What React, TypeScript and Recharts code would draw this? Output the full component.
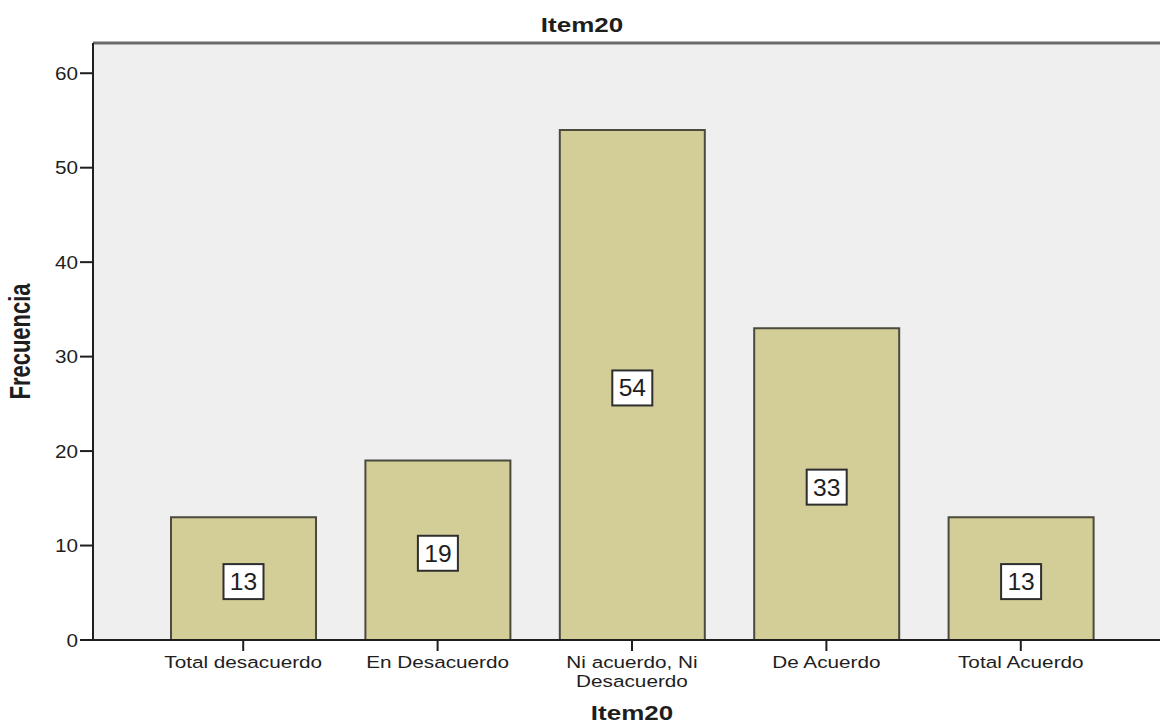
import { Bar, BarChart, CartesianGrid, LabelList, ReferenceLine, XAxis, YAxis } from 'recharts';

const CATEGORIES = [
  'Total desacuerdo',
  'En Desacuerdo',
  'Ni acuerdo, Ni Desacuerdo',
  'De Acuerdo',
  'Total Acuerdo',
];
const FRECUENCIA = [13, 19, 54, 33, 13];
const Y_TICKS = [0, 10, 20, 30, 40, 50, 60];
const Y_MAX = 63.2;

const TITLE = 'Item20';
const X_TITLE = 'Item20';
const Y_TITLE = 'Frecuencia';

const data = CATEGORIES.map((name, i) => ({ name, value: FRECUENCIA[i] }));

const FONT = '"Liberation Sans", Arial, sans-serif';
const INK = '#1e1e1e';
const PAD_LEFT = 53;
const PAD_RIGHT = 42;

// SPSS output renders text a bit wide, so every label is stretched horizontally
function WideText({
  x,
  y,
  sx,
  size,
  bold,
  anchor = 'middle',
  rotate,
  lineHeight = 0,
  children,
}: {
  x: number;
  y: number;
  sx: number;
  size: number;
  bold?: boolean;
  anchor?: 'start' | 'middle' | 'end';
  rotate?: number;
  lineHeight?: number;
  children: React.ReactNode | string[];
}) {
  const rot = rotate ? ` rotate(${rotate})` : '';
  const lines = Array.isArray(children) ? children : [children];
  return (
    <g transform={`translate(${x},${y}) scale(${sx},1)${rot}`}>
      <text
        x={0}
        y={0}
        textAnchor={anchor}
        fontFamily={FONT}
        fontSize={size}
        fontWeight={bold ? 700 : 400}
        fill={INK}
      >
        {lines.map((line, i) => (
          <tspan key={i} x={0} dy={i === 0 ? 0 : lineHeight}>
            {line}
          </tspan>
        ))}
      </text>
    </g>
  );
}

function splitLabel(label: string): string[] {
  if (label.length <= 18) return [label];
  const cut = label.lastIndexOf(' ');
  return [label.slice(0, cut), label.slice(cut + 1)];
}

function CategoryTick(props: any) {
  const { x, y, payload } = props;
  return (
    <WideText x={x} y={y + 15} sx={1.22} size={17} lineHeight={19}>
      {splitLabel(String(payload.value))}
    </WideText>
  );
}

function CountTick(props: any) {
  const { x, y, payload } = props;
  return (
    <WideText x={x} y={y + 6.5} sx={1.15} size={18} anchor="end">
      {String(payload.value)}
    </WideText>
  );
}

function CountBox(props: any) {
  const { x, y, width, height, value } = props;
  const cx = x + width / 2;
  const cy = y + height / 2 + 3;
  const w = 12 + String(value).length * 14;
  const h = 35;
  return (
    <g>
      <rect x={cx - w / 2} y={cy - h / 2} width={w} height={h} fill="#ffffff" stroke="#2e2e2e" strokeWidth={2} />
      <WideText x={cx} y={cy + 8.5} sx={1.07} size={23}>
        {String(value)}
      </WideText>
    </g>
  );
}

export default function App() {
  return (
    <div style={{ position: 'absolute', left: 0, top: 0, background: '#ffffff' }}>
      <BarChart
        width={1160}
        height={723}
        data={data}
        margin={{ top: 43, right: 0, bottom: 0, left: 0 }}
        barCategoryGap={0}
      >
        <CartesianGrid fill="#efefef" horizontal={false} vertical={false} />
        <XAxis
          dataKey="name"
          height={83}
          padding={{ left: PAD_LEFT, right: PAD_RIGHT }}
          axisLine={{ stroke: INK, strokeWidth: 2 }}
          tickLine={{ stroke: INK, strokeWidth: 2 }}
          tickSize={11}
          tick={<CategoryTick />}
          interval={0}
          label={{
            content: (p: any) => {
              const vb = p.viewBox;
              const cx = vb.x + PAD_LEFT + (vb.width - PAD_LEFT - PAD_RIGHT) / 2;
              return (
                <WideText x={cx} y={vb.y + 80} sx={1.3} size={20} bold>
                  {X_TITLE}
                </WideText>
              );
            },
          }}
        />
        <YAxis
          width={93}
          domain={[0, Y_MAX]}
          ticks={Y_TICKS}
          allowDataOverflow
          axisLine={{ stroke: INK, strokeWidth: 2 }}
          tickLine={{ stroke: INK, strokeWidth: 2 }}
          tickSize={13}
          tick={<CountTick />}
          label={{
            content: (p: any) => {
              const vb = p.viewBox;
              return (
                <WideText x={30} y={vb.y + vb.height / 2} sx={1.3} size={22} bold rotate={-90}>
                  {Y_TITLE}
                </WideText>
              );
            },
          }}
        />
        <ReferenceLine
          y={Y_MAX}
          stroke="#6a6a6a"
          strokeWidth={3}
          label={{
            content: (p: any) => {
              const vb = p.viewBox;
              return (
                <WideText x={582} y={vb.y - 11} sx={1.3} size={20} bold>
                  {TITLE}
                </WideText>
              );
            },
          }}
        />
        <Bar
          dataKey="value"
          barSize={145}
          fill="#d3cd98"
          stroke="#4a4a3e"
          strokeWidth={2}
          isAnimationActive={false}
        >
          <LabelList dataKey="value" content={<CountBox />} />
        </Bar>
      </BarChart>
    </div>
  );
}
